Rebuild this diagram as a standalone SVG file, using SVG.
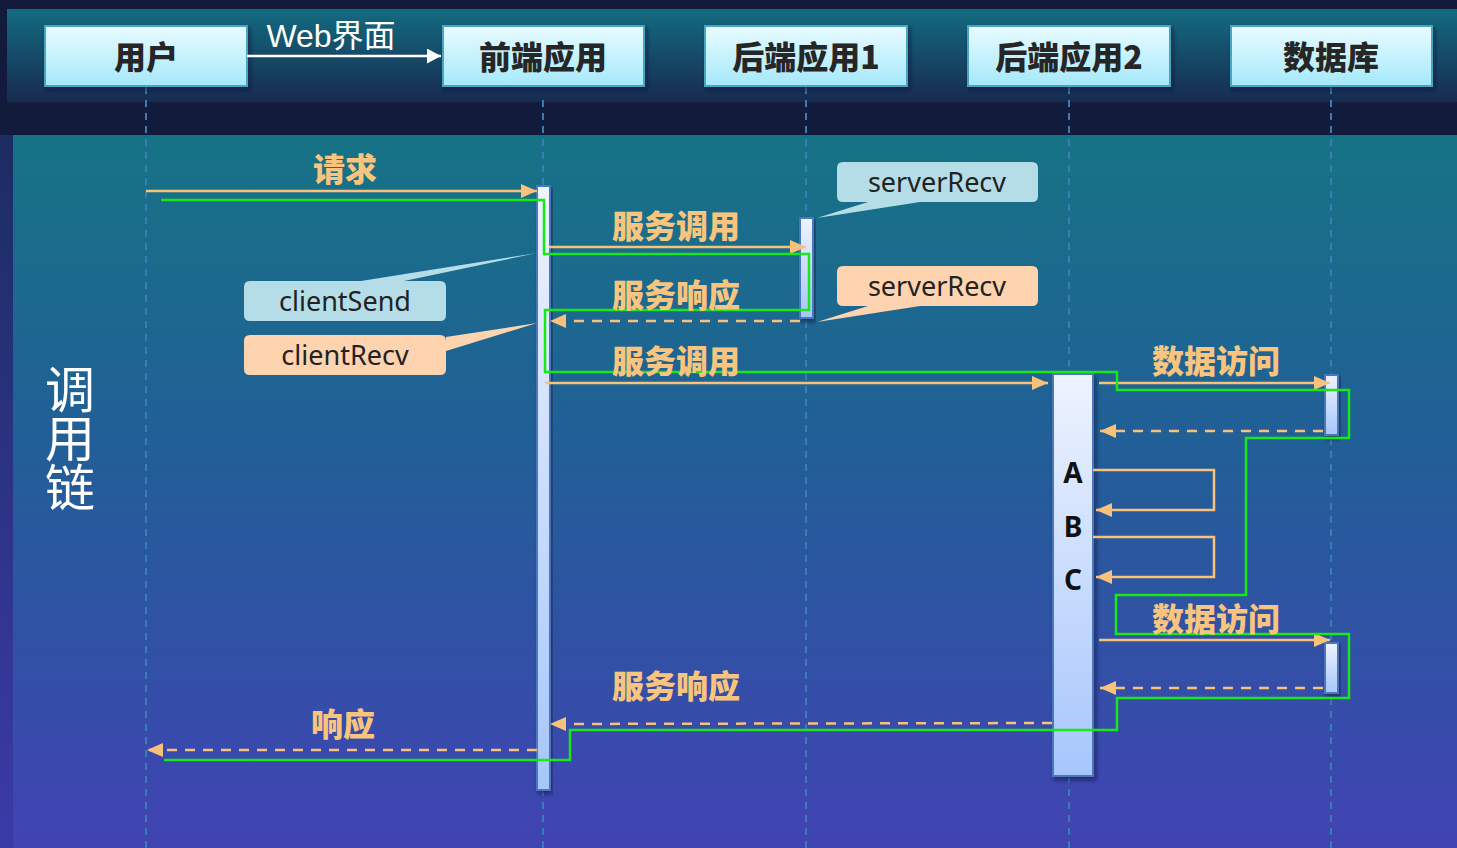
<svg xmlns="http://www.w3.org/2000/svg" width="1457" height="848" viewBox="0 0 1457 848">
<defs>
<linearGradient id="hdrBg" x1="0" y1="0" x2="0" y2="1">
<stop offset="0" stop-color="#136b80"/>
<stop offset="1" stop-color="#182a50"/>
</linearGradient>
<linearGradient id="mainBg" x1="0" y1="0" x2="0" y2="1">
<stop offset="0" stop-color="#167385"/>
<stop offset="0.45" stop-color="#225e98"/>
<stop offset="1" stop-color="#4143b3"/>
</linearGradient>
<linearGradient id="leftBg" x1="0" y1="0" x2="0" y2="1">
<stop offset="0" stop-color="#1c2c62"/>
<stop offset="1" stop-color="#3c3aa8"/>
</linearGradient>
<linearGradient id="boxGrad" x1="0" y1="0" x2="0" y2="1">
<stop offset="0" stop-color="#e9fcff"/>
<stop offset="1" stop-color="#a5e8fb"/>
</linearGradient>
<linearGradient id="barGrad" x1="0" y1="0" x2="0" y2="1">
<stop offset="0" stop-color="#eef3ff"/>
<stop offset="1" stop-color="#a6c6fb"/>
</linearGradient>
<filter id="shadow" x="-20%" y="-20%" width="140%" height="140%">
<feDropShadow dx="2" dy="3" stdDeviation="2" flood-color="#081430" flood-opacity="0.6"/>
</filter>
<marker id="arr" markerUnits="userSpaceOnUse" markerWidth="18" markerHeight="16" refX="16" refY="7" orient="auto">
<path d="M0,0 L16,7 L0,14 z" fill="#f8c27a" stroke="none"/>
</marker>
<marker id="arrW" markerUnits="userSpaceOnUse" markerWidth="16" markerHeight="16" refX="14" refY="7.5" orient="auto">
<path d="M0,0 L14,7.5 L0,15 z" fill="#ffffff" stroke="none"/>
</marker>
<style>
.box{fill:url(#boxGrad);stroke:#4aa6c2;stroke-width:2;filter:url(#shadow);}
.hdr{font-family:"Noto Sans CJK SC","Noto Sans",sans-serif;font-weight:900;font-size:32px;fill:#262626;text-anchor:middle;}
.life{stroke:#3a7cb4;stroke-width:2;stroke-dasharray:7 6;fill:none;}
.bar{fill:url(#barGrad);stroke:#4a78c0;stroke-width:2;filter:url(#shadow);}
.msg{stroke:#f8c27a;stroke-width:2.5;fill:none;}
.dash{stroke-dasharray:10 8;}
.lbl{font-family:"Noto Sans CJK SC",sans-serif;font-weight:900;font-size:32px;fill:#f9c57e;text-anchor:middle;}
.green{stroke:#18e818;stroke-width:2.5;fill:none;}
.cb{fill:#b5dde7;}
.co{fill:#fdd4af;}
.ct{font-family:"Noto Sans",sans-serif;font-size:27px;fill:#222222;text-anchor:middle;}
.abc{font-family:"Noto Sans","DejaVu Sans",sans-serif;font-weight:700;font-size:28px;fill:#111111;text-anchor:middle;}
</style>
</defs>

<!-- background -->
<rect x="0" y="0" width="1457" height="848" fill="#131b3c"/>
<rect x="7" y="9" width="1450" height="93" fill="url(#hdrBg)"/>
<rect x="0" y="135" width="13" height="713" fill="url(#leftBg)"/>
<rect x="13" y="135" width="1444" height="713" fill="url(#mainBg)"/>

<!-- lifelines -->
<g id="lifelines">
<line class="life" x1="146" y1="87" x2="146" y2="848"/>
<line class="life" x1="543" y1="100" x2="543" y2="848"/>
<line class="life" x1="806" y1="87" x2="806" y2="848"/>
<line class="life" x1="1069" y1="87" x2="1069" y2="848"/>
<line class="life" x1="1331" y1="87" x2="1331" y2="848"/>
</g>

<!-- header nodes -->
<g id="node-user"><rect class="box" x="45" y="26" width="202" height="60"/><text class="hdr" x="146" y="69">用户</text></g>
<g id="node-frontend"><rect class="box" x="443" y="26" width="201" height="60"/><text class="hdr" x="543" y="69">前端应用</text></g>
<g id="node-backend1"><rect class="box" x="705" y="26" width="202" height="60"/><text class="hdr" x="806" y="69">后端应用1</text></g>
<g id="node-backend2"><rect class="box" x="968" y="26" width="202" height="60"/><text class="hdr" x="1069" y="69">后端应用2</text></g>
<g id="node-db"><rect class="box" x="1231" y="26" width="201" height="60"/><text class="hdr" x="1331" y="69">数据库</text></g>

<!-- side label -->
<g id="side-label">
<text x="70" y="437" font-family="Noto Sans CJK SC, sans-serif" font-size="50" fill="#ffffff" text-anchor="middle" writing-mode="vertical-rl" letter-spacing="-1">调用链</text>
</g>

<!-- activation bars -->
<g id="activations">
<rect class="bar" x="537" y="186" width="13" height="604"/>
<rect class="bar" x="800" y="218" width="13" height="100"/>
<rect class="bar" x="1053" y="374" width="40" height="402"/>
<rect class="bar" x="1325" y="375" width="13" height="60"/>
<rect class="bar" x="1325" y="643" width="13" height="50"/>
</g>

<!-- callouts -->
<g id="callout-serverRecv1">
<path class="cb" d="M843,162 H1032 Q1038,162 1038,168 V196 Q1038,202 1032,202 H920 L817,218 L868,202 H843 Q837,202 837,196 V168 Q837,162 843,162 z"/>
<text class="ct" x="937" y="192">serverRecv</text>
</g>
<g id="callout-serverRecv2">
<path class="co" d="M843,266 H1032 Q1038,266 1038,272 V300 Q1038,306 1032,306 H920 L817,322 L868,306 H843 Q837,306 837,300 V272 Q837,266 843,266 z"/>
<text class="ct" x="937" y="296">serverRecv</text>
</g>
<g id="callout-clientSend">
<path class="cb" d="M250,281 H361 L537,253 L404,281 H440 Q446,281 446,287 V315 Q446,321 440,321 H250 Q244,321 244,315 V287 Q244,281 250,281 z"/>
<text class="ct" x="345" y="311">clientSend</text>
</g>
<g id="callout-clientRecv">
<path class="co" d="M250,335 H440 Q446,335 446,341 V337 L537,323 L446,351 V369 Q446,375 440,375 H250 Q244,375 244,369 V341 Q244,335 250,335 z"/>
<text class="ct" x="345" y="365">clientRecv</text>
</g>

<!-- connectors -->
<g id="connectors">
<line x1="247" y1="56" x2="441" y2="56" stroke="#ffffff" stroke-width="2.5" marker-end="url(#arrW)"/>
<line class="msg" x1="146" y1="191" x2="537" y2="191" marker-end="url(#arr)"/>
<line class="msg" x1="549" y1="247" x2="806" y2="247" marker-end="url(#arr)"/>
<line class="msg dash" x1="800" y1="321" x2="550" y2="321" marker-end="url(#arr)"/>
<line class="msg" x1="545" y1="383" x2="1048" y2="383" marker-end="url(#arr)"/>
<line class="msg" x1="1099" y1="383" x2="1330" y2="383" marker-end="url(#arr)"/>
<line class="msg dash" x1="1323" y1="431" x2="1100" y2="431" marker-end="url(#arr)"/>
<polyline class="msg" points="1093,470 1214,470 1214,510 1096,510" marker-end="url(#arr)"/>
<polyline class="msg" points="1093,537 1214,537 1214,577 1096,577" marker-end="url(#arr)"/>
<line class="msg" x1="1099" y1="640" x2="1330" y2="640" marker-end="url(#arr)"/>
<line class="msg dash" x1="1323" y1="688" x2="1100" y2="688" marker-end="url(#arr)"/>
<line class="msg dash" x1="1052" y1="723" x2="550" y2="724" marker-end="url(#arr)"/>
<line class="msg dash" x1="537" y1="750" x2="147" y2="750" marker-end="url(#arr)"/>
<polyline class="green" points="161,200 544,200 544,254 809,254 809,310 545,310 545,372 1117,372 1117,390 1349,390 1349,438 1246,438 1246,595 1116,595 1116,634 1349,634 1349,698 1117,698 1117,730 570,730 570,760 164,760"/>
</g>

<!-- labels -->
<g id="labels">
<text x="331" y="47" font-family="Liberation Sans, Noto Sans CJK SC, sans-serif" font-size="32" fill="#ffffff" text-anchor="middle">Web界面</text>
<text class="lbl" x="345" y="181">请求</text>
<text class="lbl" x="676" y="238">服务调用</text>
<text class="lbl" x="676" y="307">服务响应</text>
<text class="lbl" x="676" y="373">服务调用</text>
<text class="lbl" x="1216" y="373">数据访问</text>
<text class="lbl" x="1216" y="631">数据访问</text>
<text class="lbl" x="676" y="698">服务响应</text>
<text class="lbl" x="343" y="736">响应</text>
<text class="abc" x="1073" y="483">A</text>
<text class="abc" x="1073" y="537">B</text>
<text class="abc" x="1073" y="590">C</text>
</g>
</svg>
